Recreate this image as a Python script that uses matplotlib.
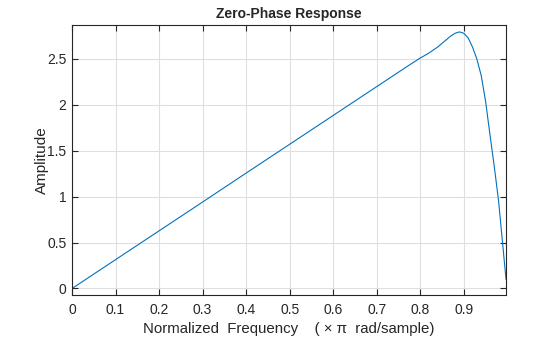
import matplotlib.pyplot as plt
import numpy as np

# normalized frequency (x pi rad/sample) and zero-phase amplitude
freq = [0.0, 0.1, 0.2, 0.3, 0.4, 0.5, 0.6, 0.7, 0.75, 0.78, 0.80, 0.82,
        0.84, 0.86, 0.87, 0.88, 0.89, 0.90, 0.91, 0.92, 0.93, 0.94, 0.95,
        0.96, 0.97, 0.98, 0.99, 0.997]
amp = [0.0, 0.314, 0.628, 0.942, 1.257, 1.571, 1.885, 2.199, 2.356, 2.45,
       2.51, 2.565, 2.63, 2.71, 2.75, 2.78, 2.795, 2.78, 2.73, 2.63, 2.50,
       2.32, 2.04, 1.68, 1.33, 0.95, 0.45, 0.10]

xticks = [0, 0.1, 0.2, 0.3, 0.4, 0.5, 0.6, 0.7, 0.8, 0.9]
yticks = [0, 0.5, 1, 1.5, 2, 2.5]

plt.rcParams['font.family'] = ['Liberation Sans', 'DejaVu Sans']

fig = plt.figure(figsize=(5.6, 3.37), dpi=100)
ax = fig.add_axes([0.1286, 0.1246, 0.775, 0.8012])

ax.plot(freq, amp, color='#0072BD', linewidth=0.8)

ax.set_xlim(0, freq[-1])
ax.set_ylim(-0.071, 2.87)
ax.set_xticks(xticks)
ax.set_xticklabels([f"{t:g}" for t in xticks])
ax.set_yticks(yticks)
ax.set_yticklabels([f"{t:g}" for t in yticks])

dark = '#262626'
ax.grid(True, color='#dfdfdf', linewidth=0.8)
ax.set_axisbelow(True)
for s in ax.spines.values():
    s.set_color(dark)
    s.set_linewidth(0.8)
ax.tick_params(direction='in', length=4, width=0.8, colors=dark,
               labelsize=10, top=True, right=True)
ax.tick_params(axis='x', pad=6)
ax.tick_params(axis='y', pad=4)

ax.set_title('Zero-Phase Response', fontsize=10, fontweight='bold',
             color=dark, pad=5)
ax.set_xlabel('Normalized  Frequency    ( \u00d7 \u03c0  rad/sample)',
              fontsize=10.8, color=dark, labelpad=3)
ax.set_ylabel('Amplitude', fontsize=11, color=dark, labelpad=-1)

fig.savefig('out.png', dpi=100)
